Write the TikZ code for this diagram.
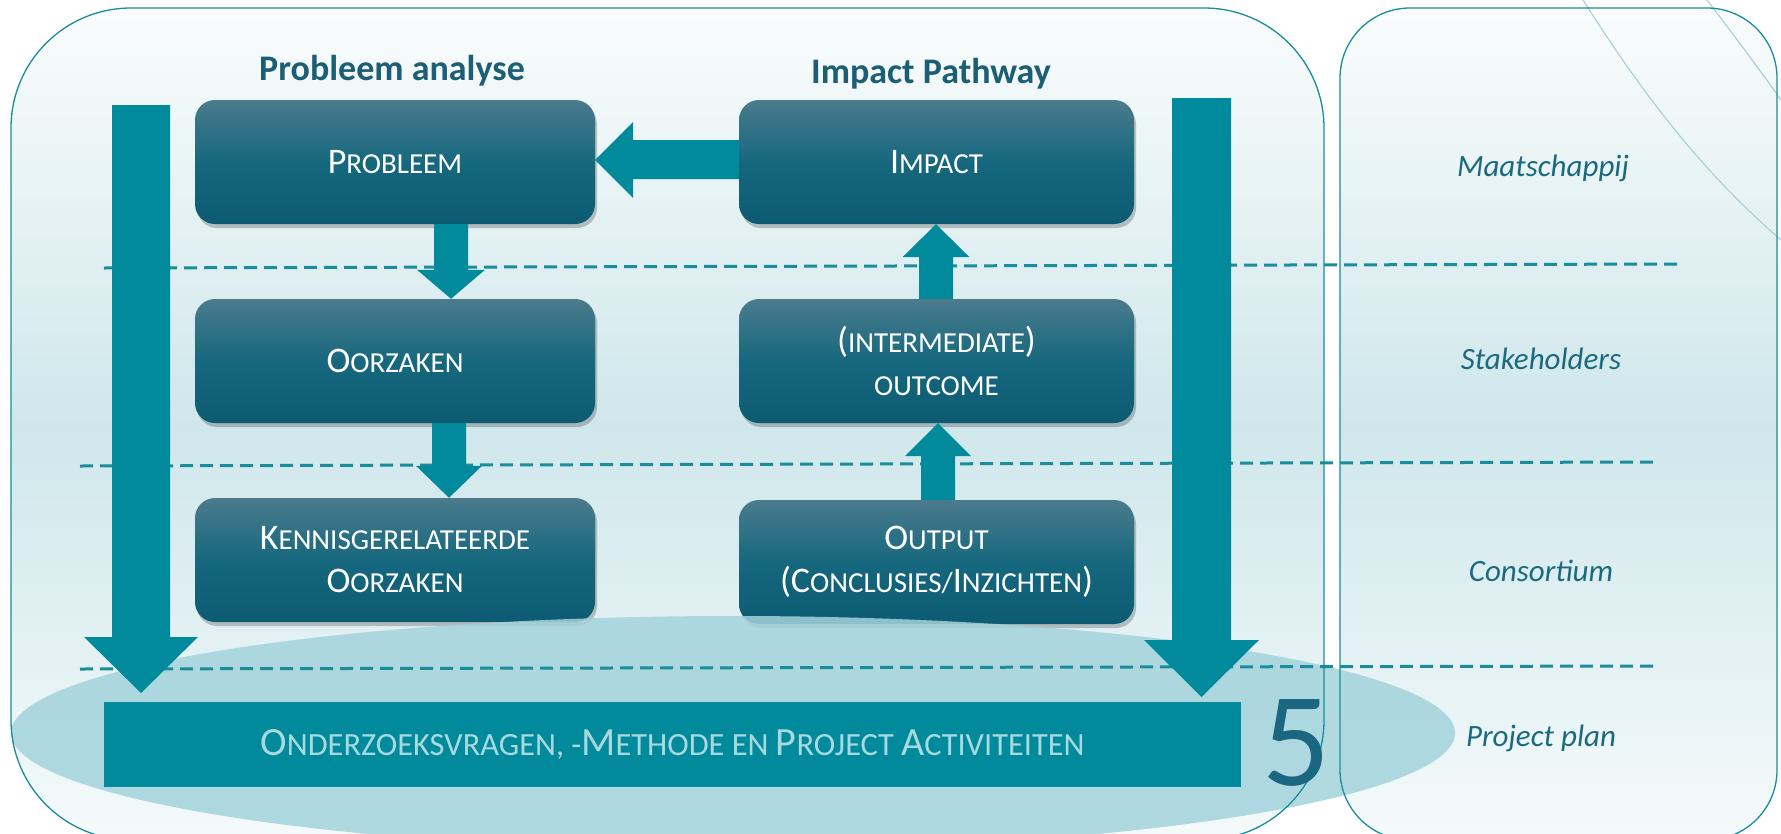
\documentclass[tikz,border=0pt]{standalone}
\usepackage{fontspec}
\setmainfont{Carlito}
\usetikzlibrary{shadows,calc}
\definecolor{arrowc}{HTML}{008A9C}
\definecolor{boxtop}{HTML}{4B7B8D}
\definecolor{boxmid}{HTML}{16687E}
\definecolor{boxbot}{HTML}{0C5B73}
\definecolor{titlec}{HTML}{1B5E75}
\definecolor{labelc}{HTML}{1B6A80}
\definecolor{linec}{HTML}{1A8C9C}
\definecolor{bgtop}{HTML}{FAFCFC}
\definecolor{bgmid}{HTML}{CFE7EB}
\definecolor{bgbot}{HTML}{F5FAFB}
\definecolor{ellc}{HTML}{A3D3DB}
\definecolor{bartext}{HTML}{A8D9DF}
\definecolor{arcc}{HTML}{A9CDD6}
\definecolor{fivec}{HTML}{1B6680}
\newcommand\bigc[1]{{\fontsize{36}{40}\selectfont #1}}
\newcommand\bigb[1]{{\fontsize{40}{44}\selectfont #1}}
% vertical block arrow: from, to, x-offset, shaft half width, head half width, signed head length
\newcommand\blkv[6]{%
  \fill[arrowc] let \p1=(#1), \p2=(#2) in
    (\x1+#3-#4,\y1) -- (\x1+#3+#4,\y1) -- (\x1+#3+#4,\y2+#6) -- (\x1+#3+#5,\y2+#6)
    -- (\x1+#3,\y2) -- (\x1+#3-#5,\y2+#6) -- (\x1+#3-#4,\y2+#6) -- cycle;}
\begin{document}
\begin{tikzpicture}[x=1pt,y=-1pt,
  stepbox/.style={rounded corners=20pt, minimum width=400pt, minimum height=124pt,
    inner sep=0pt, align=center, text=white, shading=axis, top color=boxtop,
    bottom color=boxbot, middle color=boxmid, font=\fontsize{29}{43}\selectfont,
    drop shadow={shadow xshift=2pt, shadow yshift=-4pt, opacity=.22, fill=black}},
  bgbox/.style={shading=axis, top color=bgtop, bottom color=bgbot, middle color=bgmid},
  outl/.style={draw=linec, line width=1.3pt},
  dashl/.style={draw=linec, line width=3pt, dash pattern=on 13pt off 7pt},
  lane/.style={text=labelc, font=\fontsize{31}{36}\selectfont\itshape},
  ttl/.style={text=titlec, font=\fontsize{36}{40}\selectfont\bfseries, anchor=base},
  arcl/.style={draw=arcc, line width=1.1pt}]
\useasboundingbox (0,0) rectangle (1781,833);
\fill[white] (0,0) rectangle (1781,833);
% background panels
\path[bgbox, rounded corners=120pt] (11,8) rectangle (1324,840);
\path[bgbox, rounded corners=70pt] (1340,8) rectangle (1777,840);
% decorative arcs
\draw[arcl] (1583,0) .. controls (1640,90) and (1700,170) .. (1781,240);
\draw[arcl] (1707,0) .. controls (1730,30) and (1760,70) .. (1781,100);
% titles
\node[ttl] (t1) at (392,80) {Probleem analyse};
\node[ttl] (t2) at (931,83) {Impact Pathway};
% boxes
\node[stepbox] (probleem) at (395,162) {\bigc{P}ROBLEEM};
\node[stepbox] (oorzaken) at (395,361) {\bigc{O}ORZAKEN};
\node[stepbox] (kennis) at (395,560) {\bigc{K}ENNISGERELATEERDE\\\bigc{O}ORZAKEN};
\node[stepbox, minimum width=395pt] (impact) at (936.5,162) {\bigc{I}MPACT};
\node[stepbox, minimum width=395pt] (inter) at (936.5,361) {\bigc{(}INTERMEDIATE\bigc{)}\\OUTCOME};
\node[stepbox, minimum width=395pt] (output) at (936.5,562) {\bigc{O}UTPUT\\\bigc{(C}ONCLUSIES/\bigc{I}NZICHTEN\bigc{)}};
% ellipse
\fill[ellc, opacity=.85] (733,733) ellipse [x radius=722, y radius=117];
% outlines of panels
\path[outl, rounded corners=120pt] (11,8) rectangle (1324,840);
\path[outl, rounded corners=70pt] (1340,8) rectangle (1777,840);
% dashed lines
\coordinate (d1a) at (104,268); \coordinate (d1b) at (1683,264);
\coordinate (d2a) at (80,466);  \coordinate (d2b) at (1659,462);
\coordinate (d3a) at (80,669);  \coordinate (d3b) at (1659,666);
\draw[dashl] (d1a) -- (d1b);
\draw[dashl] (d2a) -- (d2b);
\draw[dashl] (d3a) -- (d3b);
% small arrows
\blkv{probleem.south}{oorzaken.north}{56pt}{17pt}{34pt}{29pt}
\blkv{oorzaken.south}{kennis.north}{54pt}{17pt}{33pt}{32pt}
\blkv{output.north}{inter.south}{1.5pt}{17pt}{33pt}{-33pt}
\blkv{inter.north}{impact.south}{-0.5pt}{17pt}{33.5pt}{-33pt}
\fill[arrowc] let \p1=(impact.west), \p2=(probleem.east) in
  (\x1,\y1+22pt) -- (\x1,\y1-17pt) -- (\x2+38pt,\y1-17pt) -- (\x2+38pt,\y1-36pt)
  -- (\x2,\y1+2pt) -- (\x2+38pt,\y1+40pt) -- (\x2+38pt,\y1+22pt) -- cycle;
% big arrows
\coordinate (ltop) at (141,105); \coordinate (ltip) at (141,693);
\coordinate (rtop) at (1201.5,98); \coordinate (rtip) at (1201.5,697);
\blkv{ltop}{ltip}{0pt}{29pt}{57pt}{56pt}
\blkv{rtop}{rtip}{0pt}{29.5pt}{57.5pt}{57pt}
% bottom bar
\node[fill=arrowc, minimum width=1137pt, minimum height=85pt, inner sep=0pt,
  text=bartext, font=\fontsize{32.4}{38}\selectfont] (bar) at (672.5,744.5)
  {\bigb{O}NDERZOEKSVRAGEN, -\bigb{M}ETHODE EN \bigb{P}ROJECT \bigb{A}CTIVITEITEN};
\node[text=fivec, font=\fontsize{134}{140}\selectfont, inner sep=0pt, anchor=base] (five) at (1296,785) {5};
% lane labels
\node[lane] (l1) at (1543,168) {Maatschappij};
\node[lane] (l2) at (1541,359) {Stakeholders};
\node[lane] (l3) at (1541,571) {Consortium};
\node[lane] (l4) at (1541,738) {Project plan};
\end{tikzpicture}
\end{document}
